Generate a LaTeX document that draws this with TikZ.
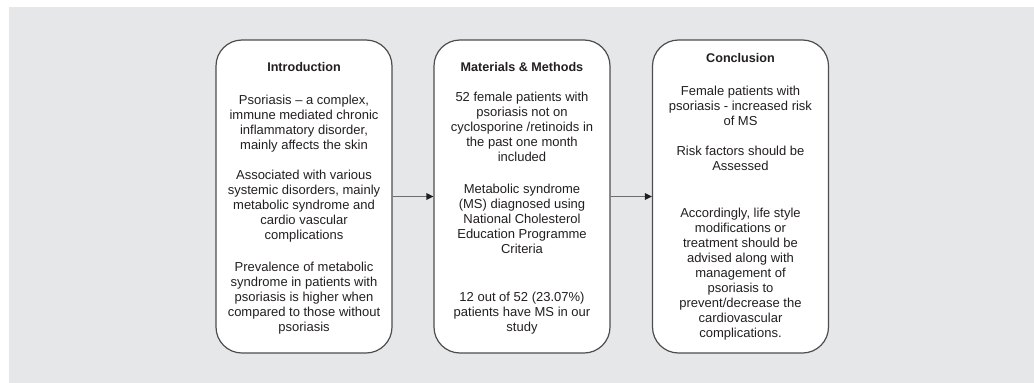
\documentclass[tikz,border=0pt]{standalone}
\usepackage{fontspec}
\setmainfont{Liberation Sans}
\usetikzlibrary{arrows.meta}
\definecolor{bg}{HTML}{E6E7E8}
\definecolor{ink}{HTML}{231F20}
\definecolor{boxline}{HTML}{4D4D4F}
\definecolor{arrline}{HTML}{6D6E71}
\newcommand\fs{\rule{0pt}{10.5pt}}
\begin{document}
\begin{tikzpicture}[x=1pt,y=-1pt,
  card/.style={draw=boxline,line width=1.2pt,fill=white,rounded corners=26pt,
    minimum width=176pt,minimum height=313pt,inner sep=0pt},
  txt/.style={anchor=north,inner sep=0pt,align=center,text=ink,
    font=\fontsize{13}{15}\selectfont},
  ttl/.style={anchor=north,inner sep=0pt,text=ink,
    font=\fontsize{12.6}{15}\selectfont\bfseries},
  link/.style={draw=arrline,line width=1.6pt,
    -{Triangle[length=7pt,width=6.5pt,color=ink]}}]
\useasboundingbox (0,0) rectangle (1034,383);
\fill[bg] (9,7) rectangle (1034,383);

\node[card] (b1) at (304,196.5) {};
\node[card] (b2) at (522,196.5) {};
\node[card] (b3) at (740.5,196.5) {};

\draw[link] (b1) -- (b2);
\draw[link] (b2) -- (b3);

% Introduction
\node[ttl] (t1) at (304,60.5) {\fs Introduction};
\node[txt] (p11) at (304,93.5) {\fs Psoriasis – a complex,\\immune mediated chronic\\inflammatory disorder,\\mainly affects the skin};
\node[txt] (p12) at (304,168.5) {\fs Associated with various\\systemic disorders, mainly\\metabolic syndrome and\\cardio vascular\\complications};
\node[txt] (p13) at (304,260.5) {\fs Prevalence of metabolic\\syndrome in patients with\\psoriasis is higher when\\compared to those without\\psoriasis};

% Materials & Methods
\node[ttl] (t2) at (522,60.5) {\fs Materials \& Methods};
\node[txt] (p21) at (522,90.5) {\fs 52 female patients with\\psoriasis not on\\cyclosporine /retinoids in\\the past one month\\included};
\node[txt] (p22) at (522,182.5) {\fs Metabolic syndrome\\(MS) diagnosed using\\National Cholesterol\\Education Programme\\Criteria};
\node[txt] (p23) at (522,290.5) {\fs 12 out of 52 (23.07\%)\\patients have MS in our\\study};

% Conclusion
\node[ttl] (t3) at (740.5,51.5) {\fs Conclusion};
\node[txt] (p31) at (740.5,84.5) {\fs Female patients with\\psoriasis - increased risk\\of MS};
\node[txt] (p32) at (740.5,144.5) {\fs Risk factors should be\\Assessed};
\node[txt] (p33) at (740.5,206.5) {\fs Accordingly, life style\\modifications or\\treatment should be\\advised along with\\management of\\psoriasis to\\prevent/decrease the\\cardiovascular\\complications.};
\end{tikzpicture}
\end{document}
